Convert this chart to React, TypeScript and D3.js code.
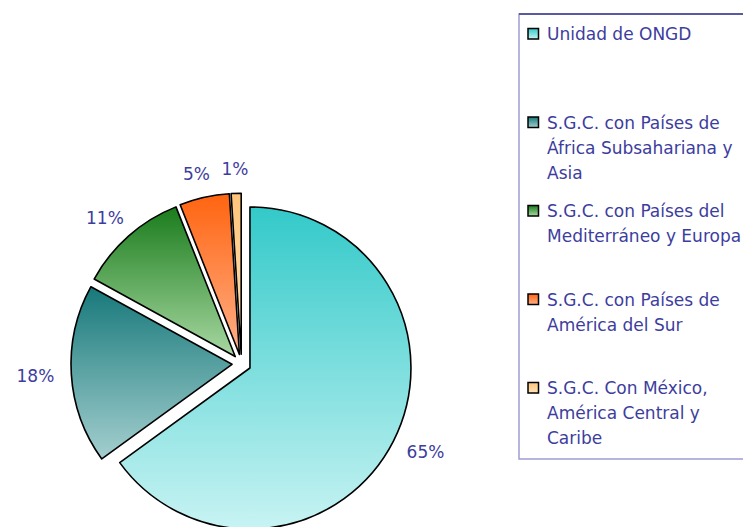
import React from 'react'
import * as d3 from 'd3'

const categories = [
  'Unidad de ONGD',
  'S.G.C. con Países de África Subsahariana y Asia',
  'S.G.C. con Países del Mediterráneo y Europa',
  'S.G.C. con Países de América del Sur',
  'S.G.C. Con México, América Central y Caribe'
]
const legendLines = [
  ['Unidad de ONGD'],
  ['S.G.C. con Países de', 'África Subsahariana y', 'Asia'],
  ['S.G.C. con Países del', 'Mediterráneo y Europa'],
  ['S.G.C. con Países de', 'América del Sur'],
  ['S.G.C. Con México,', 'América Central y', 'Caribe']
]
const values = [65, 18, 11, 5, 1]
const topColors = ['#33c9c9', '#17787a', '#1a7c1c', '#ff6410', '#ffc47a']
const bottomColors = ['#c8f3f3', '#a4cfcf', '#a8d8a2', '#ffb088', '#ffe2b8']

const W = 743
const H = 527
const cx = 241.5
const cy = 363.7
const R = 161
const explode = 9.5
const textColor = '#3d3d9e'
const font = 'DejaVu Sans, sans-serif'

export default function App () {
  const pie = d3.pie<number>().sort(null).value(d => d)
  const arcs = pie(values)
  const arc = d3.arc<d3.PieArcDatum<number>>().innerRadius(0).outerRadius(R)
  const total = d3.sum(values)

  const legendX = 519
  const legendTop = 14
  const legendBottom = 459
  const entryY = d3.scaleLinear().domain([0, 4]).range([40, 394])

  return (
    <svg width={W} height={H} style={{ position: 'absolute', left: 0, top: 0 }}>
      <defs>
        {values.map((v, i) => (
          <linearGradient key={i} id={'g' + i} x1='0' y1='0' x2='0' y2='1'>
            <stop offset='0%' stopColor={topColors[i]} />
            <stop offset='100%' stopColor={bottomColors[i]} />
          </linearGradient>
        ))}
      </defs>
      <rect width={W} height={H} fill='#fff' />
      {arcs.map((a, i) => {
        const mid = (a.startAngle + a.endAngle) / 2
        const ox = cx + Math.sin(mid) * explode
        const oy = cy - Math.cos(mid) * explode
        // labels sit a bit further out horizontally than vertically
        const lx = ox + Math.sin(mid) * (R + 36)
        const ly = oy - Math.cos(mid) * (R + 24)
        return (
          <g key={i}>
            <path d={arc(a) || ''} transform={`translate(${ox},${oy})`}
              fill={`url(#g${i})`} stroke='#000' strokeWidth={1.6} strokeLinejoin='round' />
            <text x={lx} y={ly} textAnchor='middle' dominantBaseline='central'
              fontFamily={font} fontSize={17} fill={textColor}>
              {d3.format('.0%')(a.data / total)}
            </text>
          </g>
        )
      })}
      <rect x={legendX} y={legendTop} width={W} height={legendBottom - legendTop}
        fill='#fff' stroke='#9d9dd3' strokeWidth={1.5} />
      <line x1={legendX} x2={W} y1={legendTop} y2={legendTop} stroke='#3c3c8c' strokeWidth={1.5} />
      {categories.map((c, i) => {
        const y = entryY(i)
        return (
          <g key={c}>
            <rect x={528} y={y - 11.5} width={10.5} height={10.5}
              fill={`url(#g${i})`} stroke='#000' strokeWidth={1.5} />
            {legendLines[i].map((l, j) => (
              <text key={j} x={547} y={y + j * 25} fontFamily={font} fontSize={17} fill={textColor}>{l}</text>
            ))}
          </g>
        )
      })}
    </svg>
  )
}
